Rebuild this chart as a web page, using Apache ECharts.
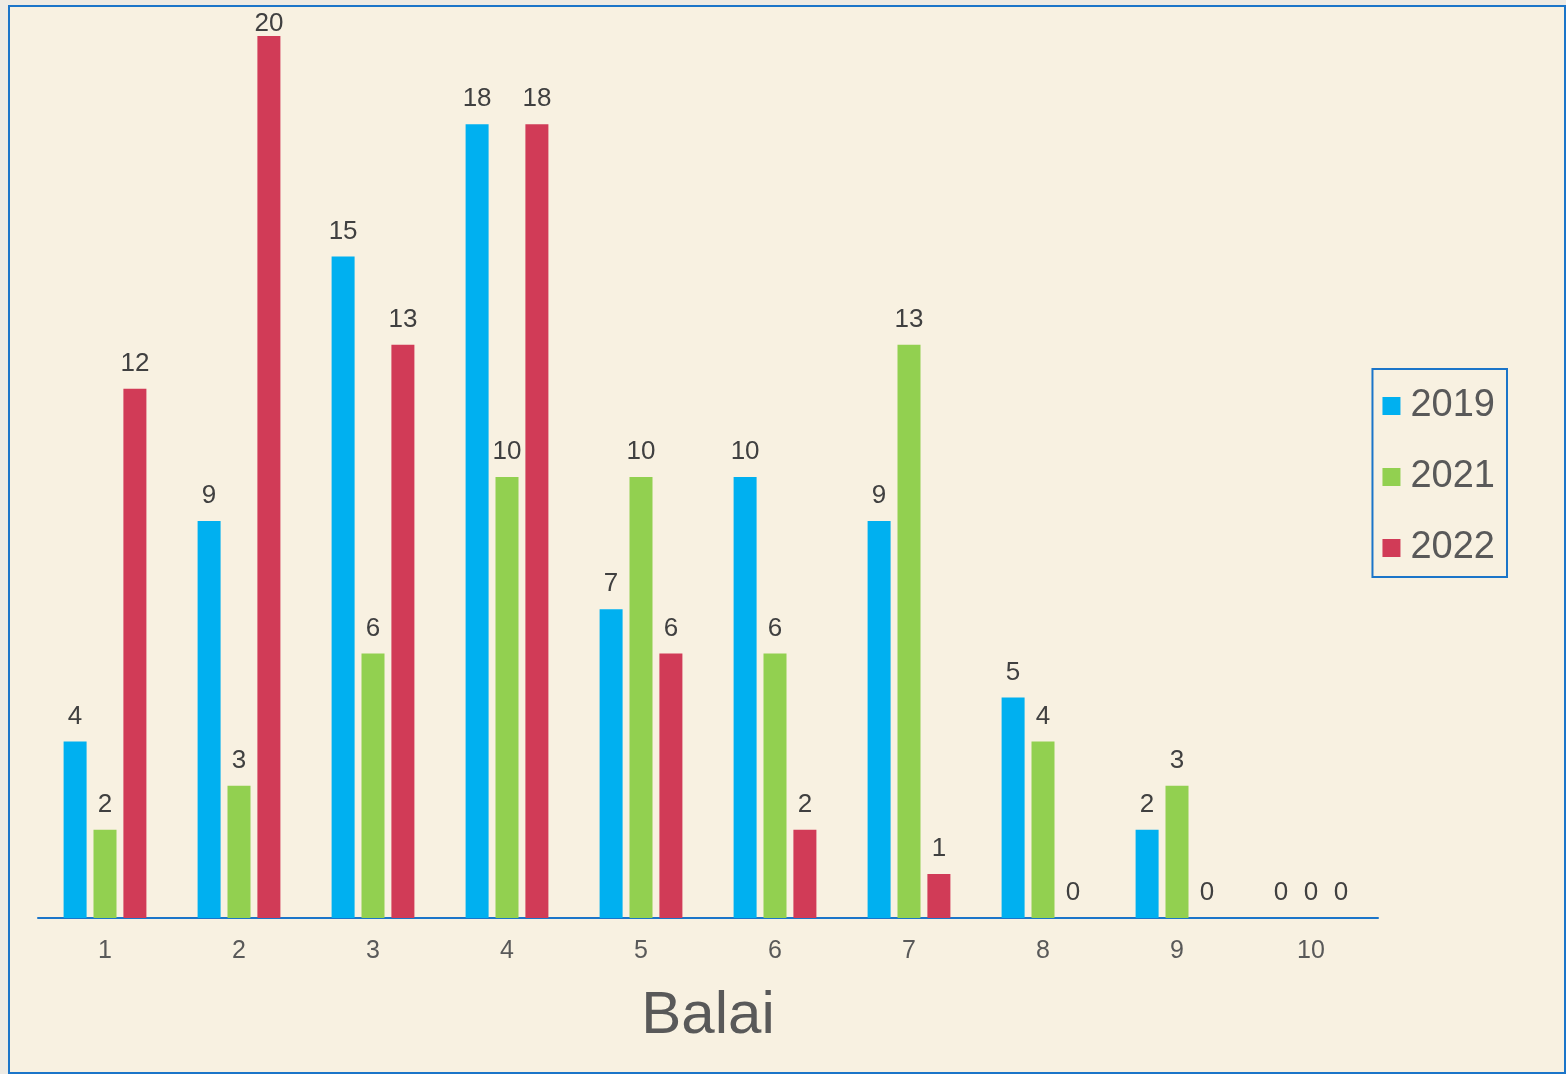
<!DOCTYPE html>
<html>
<head>
<meta charset="utf-8">
<script src="https://cdn.jsdelivr.net/npm/echarts@6/dist/echarts.min.js"></script>
<style>
  html, body { margin: 0; padding: 0; background: #EEEBE4; }
  #main {
    position: absolute; left: 8px; top: 5px;
    width: 1558px; height: 1069px;
    box-sizing: border-box;
    border: 2px solid #1B75C9;
    background: #F8F1E1;
  }
</style>
</head>
<body>
<div id="main"></div>
<script>
const categories = ['1', '2', '3', '4', '5', '6', '7', '8', '9', '10'];
const years = ['2019', '2021', '2022'];
const v2019 = [4, 9, 15, 18, 7, 10, 9, 5, 2, 0];
const v2021 = [2, 3, 6, 10, 10, 6, 13, 4, 3, 0];
const v2022 = [12, 20, 13, 18, 6, 2, 1, 0, 0, 0];
const colors = ['#00B0F0', '#92D050', '#D13B57'];

const font = '"Liberation Sans", Arial, sans-serif';

function makeSeries(name, data, color) {
  return {
    name: name,
    type: 'bar',
    data: data,
    barWidth: 23,
    barGap: '30%',
    itemStyle: { color: color },
    label: {
      show: true,
      position: 'top',
      distance: 12,
      color: '#404040',
      fontSize: 26,
      fontFamily: font
    },
    // keep the top label inside the frame, like the original
    labelLayout: function (p) {
      if (p.labelRect.y < 4) {
        return {
          x: p.rect.x + p.rect.width / 2,
          y: 4,
          align: 'center',
          verticalAlign: 'top'
        };
      }
    }
  };
}

const chart = echarts.init(document.getElementById('main'));
chart.setOption({
  backgroundColor: '#F8F1E1',
  animation: false,
  grid: { left: 28, right: 186, top: 29, bottom: 154 },
  legend: {
    orient: 'vertical',
    right: 57,
    top: 362,
    padding: [18, 12, 10, 10],
    itemGap: 33,
    itemWidth: 18,
    itemHeight: 18,
    borderColor: '#1B75C9',
    borderWidth: 2,
    icon: 'rect',
    textStyle: { color: '#595959', fontSize: 38, fontFamily: font, padding: [0, 0, 0, 5] },
    data: years
  },
  xAxis: {
    type: 'category',
    data: categories,
    name: 'Balai',
    nameLocation: 'middle',
    nameGap: 68,
    nameTextStyle: { color: '#595959', fontSize: 60, fontFamily: font },
    axisLine: { lineStyle: { color: '#1B75C9', width: 2 } },
    axisTick: { show: false },
    axisLabel: { color: '#595959', fontSize: 25, margin: 21, fontFamily: font }
  },
  yAxis: {
    type: 'value',
    min: 0,
    max: 20,
    show: false
  },
  series: [
    makeSeries(years[0], v2019, colors[0]),
    makeSeries(years[1], v2021, colors[1]),
    makeSeries(years[2], v2022, colors[2])
  ]
});
</script>
</body>
</html>
